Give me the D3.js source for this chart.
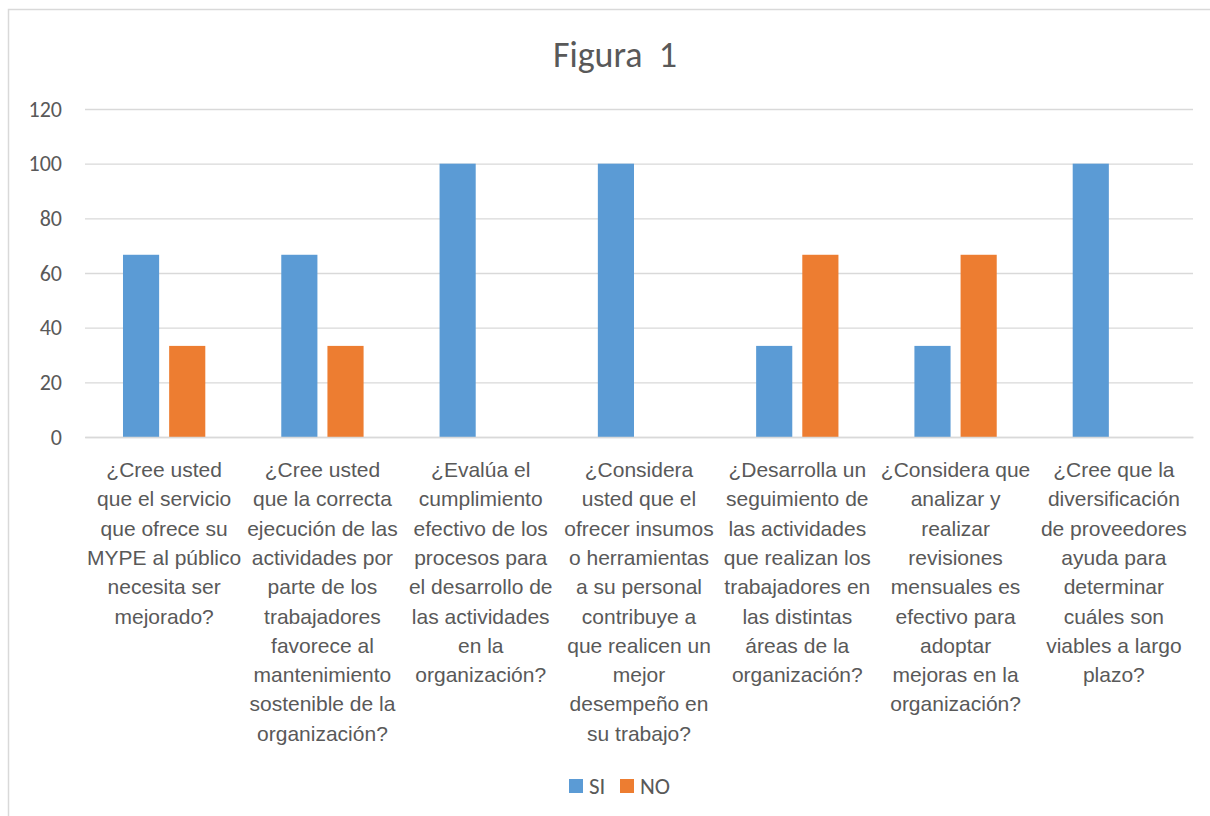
<!DOCTYPE html>
<html>
<head>
<meta charset="utf-8">
<script src="https://cdn.jsdelivr.net/npm/d3@7"></script>
<style>
  body { margin: 0; background: #fff; }
  svg { font-family: Carlito, Lato, "Open Sans", sans-serif; }
</style>
</head>
<body>
<svg></svg>
<script>
var categories = [
  "¿Cree usted\nque el servicio\nque ofrece su\nMYPE al público\nnecesita ser\nmejorado?",
  "¿Cree usted\nque la correcta\nejecución de las\nactividades por\nparte de los\ntrabajadores\nfavorece al\nmantenimiento\nsostenible de la\norganización?",
  "¿Evalúa el\ncumplimiento\nefectivo de los\nprocesos para\nel desarrollo de\nlas actividades\nen la\norganización?",
  "¿Considera\nusted que el\nofrecer insumos\no herramientas\na su personal\ncontribuye a\nque realicen un\nmejor\ndesempeño en\nsu trabajo?",
  "¿Desarrolla un\nseguimiento de\nlas actividades\nque realizan los\ntrabajadores en\nlas distintas\náreas de la\norganización?",
  "¿Considera que\nanalizar y\nrealizar\nrevisiones\nmensuales es\nefectivo para\nadoptar\nmejoras en la\norganización?",
  "¿Cree que la\ndiversificación\nde proveedores\nayuda para\ndeterminar\ncuáles son\nviables a largo\nplazo?"
];
var series = ["SI", "NO"];
var siValues = [66.67, 66.67, 100, 100, 33.33, 33.33, 100];
var noValues = [33.33, 33.33, 0, 0, 66.67, 66.67, 0];
var yTicks = [0, 20, 40, 60, 80, 100, 120];
var colors = ["#5b9bd5", "#ed7d31"];

var width = 1210, height = 816;
var plotLeft = 85, plotRight = 1193, plotTop = 109, plotBottom = 437;

var rows = categories.map(function(c, i) {
  return { cat: c, SI: siValues[i], NO: noValues[i] };
});

var svg = d3.select("svg").attr("width", width).attr("height", height);

svg.append("rect")
  .attr("x", 8.5).attr("y", 9.5)
  .attr("width", 1220).attr("height", 820)
  .attr("fill", "none").attr("stroke", "#d9d9d9").attr("stroke-width", 1.5);

svg.append("text")
  .text("Figura  1")
  .attr("x", 615).attr("y", 67)
  .attr("text-anchor", "middle")
  .attr("fill", "#595959")
  .style("font-size", "36px")
  .style("white-space", "pre");

var x0 = d3.scaleBand().domain(categories).range([plotLeft, plotRight])
  .paddingInner(0.48).paddingOuter(0.24);
var x1 = d3.scaleBand().domain(series).range([0, x0.bandwidth()])
  .paddingInner(0.217);
var y = d3.scaleLinear().domain([0, 120]).range([plotBottom, plotTop]);

var yAxis = d3.axisLeft(y).tickValues(yTicks).tickSize(-(plotRight - plotLeft)).tickPadding(23);
var gy = svg.append("g").attr("transform", "translate(" + plotLeft + ",0)").call(yAxis);
gy.select(".domain").remove();
gy.selectAll(".tick line").attr("stroke", "#d9d9d9").attr("stroke-width", 1.3);
gy.selectAll(".tick text").attr("fill", "#595959").style("font-size", "22px")
  .style("font-family", "Carlito, Lato, sans-serif");

var groups = svg.append("g").selectAll("g")
  .data(rows).enter().append("g")
  .attr("transform", function(d) { return "translate(" + x0(d.cat) + ",0)"; });

groups.selectAll("rect")
  .data(function(d) { return series.map(function(s) { return { key: s, value: d[s] }; }); })
  .enter().append("rect")
  .attr("x", function(d) { return x1(d.key); })
  .attr("width", x1.bandwidth())
  .attr("y", function(d) { return y(d.value); })
  .attr("height", function(d) { return plotBottom - y(d.value); })
  .attr("fill", function(d, i) { return colors[i]; });

var xAxis = d3.axisBottom(x0).tickSize(0).tickFormat("");
var gx = svg.append("g").attr("transform", "translate(0," + plotBottom + ")").call(xAxis);
gx.select(".domain").attr("stroke", "#d9d9d9").attr("stroke-width", 1.3);

gx.selectAll(".tick").each(function(d) {
  var t = d3.select(this).append("text")
    .attr("fill", "#595959")
    .attr("text-anchor", "middle")
    .style("font-size", "21px");
  d.split("\n").forEach(function(line, i) {
    t.append("tspan").attr("x", 0).attr("y", 40 + i * 29.3).text(line);
  });
});

var legend = svg.append("g").attr("transform", "translate(569,779)");
series.forEach(function(s, i) {
  var g = legend.append("g").attr("transform", "translate(" + (i * 51) + ",0)");
  g.append("rect").attr("width", 14).attr("height", 14).attr("fill", colors[i]);
  g.append("text").attr("x", 20).attr("y", 15).text(s)
    .attr("fill", "#595959").style("font-size", "23px");
});
</script>
</body>
</html>
